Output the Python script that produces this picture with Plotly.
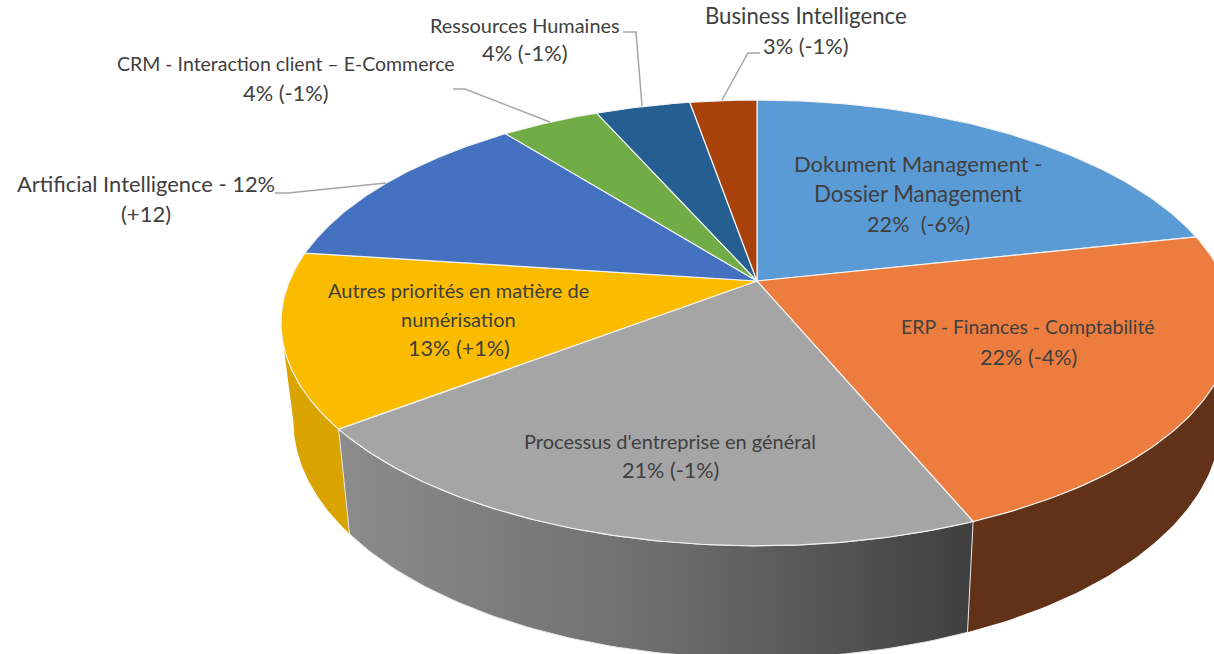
import numpy as np
import plotly.graph_objects as go

# --- data ---
categories = ["Dokument Management - Dossier Management", "ERP - Finances - Comptabilité",
              "Processus d'entreprise en général", "Autres priorités en matière de numérisation",
              "Artificial Intelligence", "CRM - Interaction client – E-Commerce",
              "Ressources Humaines", "Business Intelligence"]
# slice sizes estimated from the drawn angles; they round to the printed percentages
values = [21.8, 22.4, 21.0, 12.7, 12.4, 4.05, 3.9, 2.75]
top_colors = ["#5B9BD5", "#ED7D3F", "#A5A5A5", "#FBBC00", "#4472C0", "#70AD47", "#255E91", "#A8420A"]
label_lines = [
    ["Dokument Management -", "Dossier Management", "22%  (-6%)"],
    ["ERP - Finances - Comptabilité", "22% (-4%)"],
    ["Processus d'entreprise en général", "21% (-1%)"],
    ["Autres priorités en matière de", "numérisation", "13% (+1%)"],
    ["Artificial Intelligence - 12%", "(+12)"],
    ["CRM - Interaction client – E-Commerce", "4% (-1%)"],
    ["Ressources Humaines", "4% (-1%)"],
    ["Business Intelligence", "3% (-1%)"],
]

# --- layout of the drawing (pixel-like axes) ---
W, H = 1214, 654
CX, CY, A, B, K = 757, 281, 467.5, 215, 0.188
BX, BY0, BYS = 0.974, 376, 1.066
label_pos = [
    ([918, 918, 918], [163.5, 193.5, 223.5], [22, 22.3, 21.7]),
    ([1028, 1028], [326.5, 356.5], [19.5, 21.6]),
    ([670, 670], [440.5, 469.5], [20, 21.6]),
    ([458.5, 458.5, 458.5], [289.5, 318.5, 347.5], [20, 20, 21.6]),
    ([146, 146], [183.5, 213.5], [21.9, 22]),
    ([286, 286], [63.5, 92.5], [19.5, 21.8]),
    ([525, 525], [24.5, 52.5], [19.9, 21.8]),
    ([806, 806], [15.5, 45.5], [22.2, 21.8]),
]
leaders = [
    None, None, None, None,
    ([275, 288, 386], [193, 193, 183]),
    ([453, 465, 550], [89, 89, 122]),
    ([623, 636, 642], [32, 32, 106]),
    ([760, 748, 722], [53, 53, 100]),
]


def top(theta):
    u, v = np.sin(theta), np.cos(theta)
    w = 1 + K * v
    return CX + A * u / w, CY - B * v / w


def bottom(theta):
    x, y = top(theta)
    return CX + (x - CX) * BX, BY0 + (y - CY) * BYS


fracs = np.array(values, float) / sum(values)
edges = np.concatenate([[0], np.cumsum(fracs)]) * 2 * np.pi

fig = go.Figure()


def wall(t1, t2_top, t2_bot, **style):
    xt, yt = top(np.linspace(t1, t2_top, 80))
    xb, yb = bottom(np.linspace(t2_bot, t1, 80))
    fig.add_trace(go.Scatter(x=np.r_[xt, xb, xt[0]], y=np.r_[yt, yb, yt[0]], mode="lines",
                             fill="toself", hoverinfo="skip", showlegend=False, **style))


# side walls: orange, yellow, grey (only the front-facing ones show)
wall(edges[1], edges[2], edges[2], line=dict(color="#613218", width=0), fillcolor="#613218")
wall(edges[3], np.radians(253.6), np.radians(259),
     line=dict(color="#D9A400", width=0), fillcolor="#D9A400")
wall(edges[2], edges[3], edges[3], line=dict(color="#E6E6E6", width=1),
     fillgradient=dict(type="horizontal",
                       colorscale=[[0, "#8C8C8C"], [0.5, "#6E6E6E"], [1, "#3F3F3F"]]))

# top face
for i, name in enumerate(categories):
    th = np.linspace(edges[i], edges[i + 1], 100)
    x, y = top(th)
    fig.add_trace(go.Scatter(x=np.r_[CX, x, CX], y=np.r_[CY, y, CY], mode="lines", fill="toself",
                             name=name, fillcolor=top_colors[i],
                             line=dict(color="#F2F2F2", width=1.2), showlegend=False,
                             text=f"{name}: {values[i]:.0f}%", hoverinfo="text"))

# leader lines
for ld in leaders:
    if ld:
        fig.add_trace(go.Scatter(x=ld[0], y=ld[1], mode="lines", hoverinfo="skip", showlegend=False,
                                 line=dict(color="#A6A6A6", width=1.5)))

# labels
for lines, (xs, ys, sizes) in zip(label_lines, label_pos):
    for t, x, y, s in zip(lines, xs, ys, sizes):
        fig.add_annotation(x=x, y=y, text=t, showarrow=False, xanchor="center", yanchor="middle",
                           font=dict(family="Lato", size=s, color="#404040"))

fig.update_layout(width=W, height=H, margin=dict(l=0, r=0, t=0, b=0),
                  paper_bgcolor="white", plot_bgcolor="white", showlegend=False,
                  xaxis=dict(range=[0, W], visible=False, fixedrange=True),
                  yaxis=dict(range=[H, 0], visible=False, fixedrange=True))
fig.write_html("out.html", config={"displayModeBar": False},
               post_script="document.body.style.margin='0';document.documentElement.style.overflow='hidden';")
